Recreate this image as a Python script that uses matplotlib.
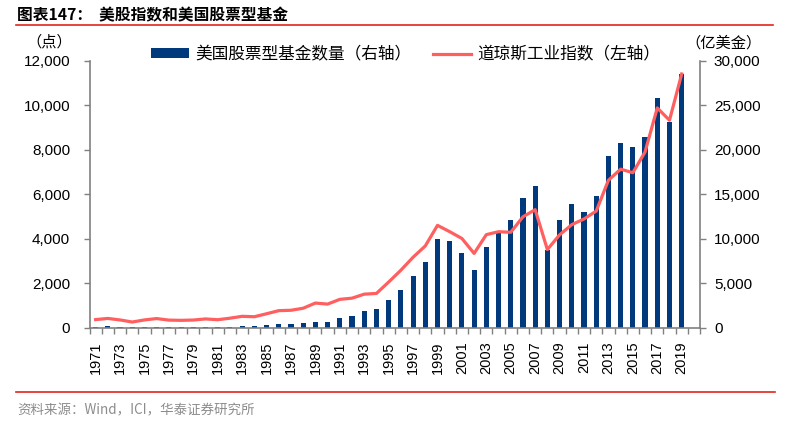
import matplotlib
matplotlib.use("Agg")
import matplotlib.pyplot as plt
from matplotlib.lines import Line2D
from matplotlib.patches import Patch
import numpy as np

years = list(range(1971, 2020))
fund_values = [45, 50, 38, 28, 34, 36, 32, 31, 34, 40, 37, 45, 70, 75, 110, 150, 175, 190,
               245, 240, 410, 520, 750, 850, 1250, 1700, 2310, 2950, 4000, 3900, 3350, 2600,
               3610, 4270, 4860, 5820, 6390, 3500, 4830, 5580, 5190, 5930, 7740, 8300, 8150,
               8570, 10320, 9250, 11400]
djia_values = [890, 1020, 851, 616, 852, 1005, 831, 805, 839, 964, 875, 1047, 1259, 1212,
               1547, 1896, 1939, 2169, 2753, 2634, 3169, 3301, 3754, 3834, 5117, 6448, 7908,
               9181, 11497, 10787, 10022, 8342, 10454, 10783, 10718, 12463, 13265, 8776,
               10428, 11578, 12218, 13104, 16577, 17823, 17425, 19763, 24719, 23327, 28538]
left_ticks = [0, 2000, 4000, 6000, 8000, 10000, 12000]
right_ticks = [0, 5000, 10000, 15000, 20000, 25000, 30000]
bar_label = "美国股票型基金数量（右轴）"
line_label = "道琼斯工业指数（左轴）"
title = "图表147：  美股指数和美国股票型基金"
source = "资料来源：Wind，ICI，华泰证券研究所"

CJK = ["Noto Sans CJK SC", "DejaVu Sans"]
NUM = ["Liberation Sans", "Noto Sans CJK SC"]
BAR_C = "#003A7D"
LINE_C = "#FF5F5F"
SPINE_C = "#808080"
RED = "#E3251B"

W, H = 786, 432
fig = plt.figure(figsize=(W / 100, H / 100), dpi=100)
ax = fig.add_axes([89.5 / W, 1 - 327.5 / H, (700 - 89.5) / W, (327.5 - 61) / H])
ax2 = ax.twinx()

x = np.arange(len(years))
ax.bar(x, fund_values, width=0.42, color=BAR_C, zorder=2)
ax2.plot(x, djia_values, color=LINE_C, lw=2.3, zorder=3, solid_joinstyle="round")

ax.set_xlim(-0.5, len(years) + 0.5)
ax.set_ylim(0, 12000)
ax2.set_ylim(0, 30000)

ax.set_yticks(left_ticks)
ax.set_yticklabels([f"{v:,}" for v in left_ticks], family=NUM, fontsize=11)
ax2.set_yticks(right_ticks)
ax2.set_yticklabels([f"{v:,}" for v in right_ticks], family=NUM, fontsize=11)

ax.set_xticks(x[::2])
ax.set_xticklabels([str(y) for y in years[::2]], rotation=90, family=NUM, fontsize=10.5)
ax.set_xticks(np.arange(-0.5, len(years) + 1), minor=True)
ax.tick_params(axis="x", which="major", length=0, pad=10)
ax.tick_params(axis="x", which="minor", length=4, color=SPINE_C, width=1)
ax.tick_params(axis="y", length=4, color=SPINE_C, width=1, pad=10)
ax2.tick_params(axis="y", length=4, color=SPINE_C, width=1, pad=6)

for a in (ax, ax2):
    a.spines["top"].set_visible(False)
    for s in ("left", "right", "bottom"):
        a.spines[s].set_color(SPINE_C)
        a.spines[s].set_linewidth(1.2)
ax2.spines["left"].set_visible(False)
ax.spines["right"].set_visible(False)
ax2.spines["bottom"].set_visible(False)

handles = [Patch(facecolor=BAR_C, edgecolor="none"),
           Line2D([0], [0], color=LINE_C, lw=2.3)]
fig.legend(handles, [bar_label, line_label], loc="upper left",
           bbox_to_anchor=(151 / W, 1 - 46 / H), ncol=2, frameon=False,
           borderpad=0, borderaxespad=0, handlelength=2.3, handleheight=0.5,
           handletextpad=0.35, columnspacing=1.3,
           prop={"family": CJK, "size": 12})

fig.text(49 / W, 1 - 42 / H, "（点）", ha="center", va="center", family=CJK, fontsize=11)
fig.text(724 / W, 1 - 43 / H, "（亿美金）", ha="center", va="center", family=CJK, fontsize=11)

fig.text(17 / W, 1 - 15 / H, title, ha="left", va="center", family=CJK,
         fontsize=11.3, fontweight="bold")
fig.add_artist(Line2D([16 / W, 773 / W], [1 - 25 / H, 1 - 25 / H], color=RED, lw=1.2))
fig.add_artist(Line2D([16 / W, 775 / W], [1 - 392 / H, 1 - 392 / H], color=RED, lw=1.2))
fig.text(17 / W, 1 - 410 / H, source, ha="left", va="center", family=CJK,
         fontsize=9.7, color="#8C8C8C")

fig.savefig("out.png", dpi=100)
